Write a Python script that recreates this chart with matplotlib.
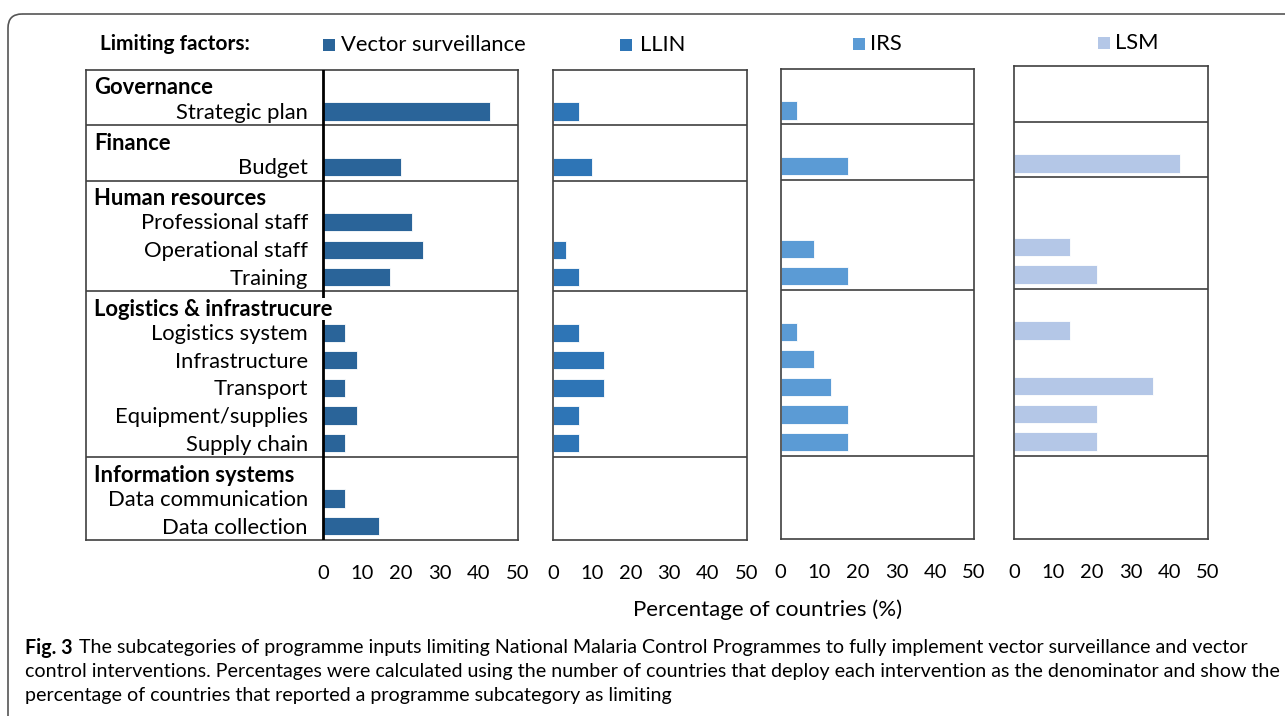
import matplotlib
matplotlib.use("Agg")
import matplotlib.pyplot as plt
from matplotlib.patches import Rectangle, FancyBboxPatch

plt.rcParams['font.family'] = ['Lato', 'DejaVu Sans']

# ---------------- data ----------------
rows = ["Governance", "Strategic plan",
        "Finance", "Budget",
        "Human resources", "Professional staff", "Operational staff", "Training",
        "Logistics & infrastrucure", "Logistics system", "Infrastructure", "Transport",
        "Equipment/supplies", "Supply chain",
        "Information systems", "Data communication", "Data collection"]
is_header = [True, False, True, False, True, False, False, False,
             True, False, False, False, False, False, True, False, False]

series_names = ["Vector surveillance", "LLIN", "IRS", "LSM"]
# percentages (None for header rows / no bar)
vector_surveillance = [None, 42.9, None, 20.0, None, 22.9, 25.7, 17.1,
                       None, 5.7, 8.6, 5.7, 8.6, 5.7, None, 5.7, 14.3]
llin = [None, 6.7, None, 10.0, None, 0, 3.3, 6.7,
        None, 6.7, 13.3, 13.3, 6.7, 6.7, None, 0, 0]
irs = [None, 4.3, None, 17.4, None, 0, 8.7, 17.4,
       None, 4.3, 8.7, 13.0, 17.4, 17.4, None, 0, 0]
lsm = [None, 0, None, 42.9, None, 0, 14.3, 21.4,
       None, 14.3, 0, 35.7, 21.4, 21.4, None, 0, 0]
colors = ["#2A6499", "#2E75B6", "#5B9BD5", "#B4C7E7"]
xticks = [0, 10, 20, 30, 40, 50]
group_breaks = [1.5, 3.5, 7.5, 13.5]

W, H = 1285, 716
fig = plt.figure(figsize=(W / 100, H / 100), dpi=100)

def rect(x0, y0, x1, y1):
    return [x0 / W, 1 - y1 / H, (x1 - x0) / W, (y1 - y0) / H]

# overlay for frame, legend, caption
ov = fig.add_axes([0, 0, 1, 1], zorder=0)
ov.set_xlim(0, W)
ov.set_ylim(H, 0)
ov.axis("off")
ov.add_patch(FancyBboxPatch((8, 14), 1400, 760, boxstyle="round,pad=0,rounding_size=14",
                            fill=False, edgecolor="#555555", linewidth=1.2, clip_on=True))

frame_col = "#404040"
n = len(rows)
ypos = list(range(n))

# panel geometry (pixels)
panels = [
    dict(x0=86, x1=518, zero=323, y0=70, y1=540, data=vector_surveillance),
    dict(x0=553, x1=746.5, zero=553, y0=70, y1=540, data=llin),
    dict(x0=780.7, x1=973.7, zero=780.7, y0=69, y1=539, data=irs),
    dict(x0=1014.3, x1=1208, zero=1014.3, y0=66, y1=539, data=lsm),
]

for k, p in enumerate(panels):
    ax = fig.add_axes(rect(p["x0"], p["y0"], p["x1"], p["y1"]), zorder=2)
    scale = (p["x1"] - p["zero"]) / 50.0
    left = -(p["zero"] - p["x0"]) / scale
    ax.set_xlim(left, 50)
    ax.set_ylim(n - 0.5, -0.5)
    vals = [0 if v is None else v for v in p["data"]]
    ax.barh(ypos, vals, height=0.66, color=colors[k], edgecolor="#ffffff",
            linewidth=0.6, zorder=2)
    for gb in group_breaks:
        ax.axhline(gb, color=frame_col, linewidth=1.2, zorder=3)
    for s in ax.spines.values():
        s.set_color(frame_col)
        s.set_linewidth(1.2)
    ax.set_yticks([])
    ax.set_xticks(xticks)
    ax.set_xticklabels([str(t) for t in xticks], fontsize=14.5)
    ax.tick_params(axis="x", length=0, pad=18)
    if k == 0:
        ax.axvline(0, color="black", linewidth=2, zorder=3)
        for i, (lab, hd) in enumerate(zip(rows, is_header)):
            if hd:
                ax.text(left + (94 - p["x0"]) / scale, i + 0.15, lab, fontsize=15.8,
                        fontweight="bold", ha="left", va="center", zorder=5,
                        bbox=dict(facecolor="white", edgecolor="none", pad=0.5))
            else:
                ax.text(-15 / scale, i + 0.05, lab, fontsize=15.8, ha="right", va="center", zorder=5)

# legend
ov.text(100, 44, "Limiting factors:", fontsize=15, fontweight="bold", ha="left", va="center")
leg = [(323, 341, 45), (620, 640, 45), (853, 870, 44), (1098, 1115, 43)]
for (sx, tx, ty), name, c in zip(leg, series_names, colors):
    ov.add_patch(Rectangle((sx, ty - 6), 12, 12, facecolor=c, edgecolor="none"))
    ov.text(tx, ty, name, fontsize=15.8, ha="left", va="center")

# axis title
ov.text(768, 610, "Percentage of countries (%)", fontsize=16, ha="center", va="center")

# caption
cap_fs = 14.1
ov.text(25, 648, "Fig. 3", fontsize=cap_fs, fontweight="bold", ha="left", va="center")
ov.text(79, 648, "The subcategories of programme inputs limiting National Malaria Control Programmes "
        "to fully implement vector surveillance and vector", fontsize=cap_fs, ha="left", va="center")
ov.text(25, 672, "control interventions. Percentages were calculated using the number of countries that "
        "deploy each intervention as the denominator and show the", fontsize=cap_fs, ha="left", va="center")
ov.text(25, 696, "percentage of countries that reported a programme subcategory as limiting",
        fontsize=cap_fs, ha="left", va="center")

fig.savefig("out.png", dpi=100)
